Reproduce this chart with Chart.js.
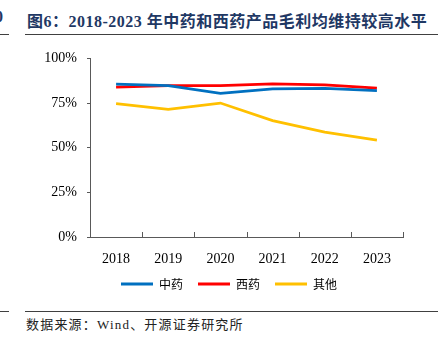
<!DOCTYPE html>
<html>
<head>
<meta charset="utf-8">
<script src="https://cdn.jsdelivr.net/npm/chart.js@4"></script>
<style>
  html, body { margin: 0; padding: 0; background: #fff; }
  body { width: 438px; height: 346px; position: relative; overflow: hidden; }
  .title { position: absolute; left: 27px; top: 8px; white-space: nowrap; font: bold 16px "Liberation Serif", "Noto Sans CJK SC", serif; color: #1f3864; letter-spacing: 0.5px; }
  .frag { position: absolute; left: -5px; top: 8px; font: bold 16px "Liberation Serif", serif; color: #1f3864; }
  .rule { position: absolute; height: 1px; background: #404040; }
  .source { position: absolute; left: 26px; top: 314px; white-space: nowrap; font: 13px "Liberation Serif", "Noto Sans CJK SC", serif; color: #222; letter-spacing: 1.2px; }
  .wrap { position: absolute; left: 20px; top: 40px; width: 418px; height: 260px; }
</style>
</head>
<body>
<div class="frag">0</div>
<div class="title">图6：2018-2023 年中药和西药产品毛利均维持较高水平</div>
<div class="rule" style="left:0;width:9px;top:34px"></div>
<div class="rule" style="left:25px;width:413px;top:34px"></div>
<div class="wrap"><canvas id="chart"></canvas></div>
<div class="rule" style="left:0;width:9px;top:311px"></div>
<div class="rule" style="left:25px;width:413px;top:311px"></div>
<div class="source">数据来源：Wind、开源证券研究所</div>
<script>
const years = ['2018', '2019', '2020', '2021', '2022', '2023'];
const tcm = [85.6, 84.7, 80.4, 83.0, 83.2, 81.9];      // 中药
const western = [83.9, 84.7, 84.7, 85.8, 85.2, 83.3];  // 西药
const other = [74.7, 71.5, 75.0, 65.2, 58.7, 54.3];    // 其他
const yTicks = [0, 25, 50, 75, 100];

const axisColor = '#595959';

// short upward ticks on the x axis at category boundaries
const xTickMarks = {
  id: 'xTickMarks',
  afterDraw(chart) {
    const x = chart.scales.x;
    const ctx = chart.ctx;
    const n = years.length;
    const step = (x.right - x.left) / n;
    ctx.save();
    ctx.strokeStyle = axisColor;
    ctx.lineWidth = 1;
    ctx.beginPath();
    for (let i = 0; i <= n; i++) {
      const px = Math.round(x.left + i * step) + 0.5;
      ctx.moveTo(px, x.top);
      ctx.lineTo(px, x.top - 5);
    }
    ctx.stroke();
    ctx.restore();
  }
};

const ds = (label, data, color) => ({
  label, data,
  borderColor: color, backgroundColor: color,
  borderWidth: 2.75, pointRadius: 0, tension: 0, fill: false
});

new Chart(document.getElementById('chart'), {
  type: 'line',
  data: {
    labels: years,
    datasets: [
      ds('中药', tcm, '#0070c0'),
      ds('西药', western, '#ff0000'),
      ds('其他', other, '#ffc000')
    ]
  },
  options: {
    responsive: true,
    maintainAspectRatio: false,
    animation: false,
    layout: { padding: { top: 10, right: 0, left: 0, bottom: 0 } },
    scales: {
      x: {
        offset: true,
        grid: { display: false },
        border: { display: true, color: axisColor, width: 1 },
        ticks: { color: '#000', font: { family: 'Liberation Serif', size: 14 }, padding: 6 },
        afterFit: s => { s.height = 26; }
      },
      y: {
        min: 0, max: 100,
        afterBuildTicks: s => { s.ticks = yTicks.map(v => ({ value: v })); },
        grid: { drawOnChartArea: false, tickLength: 3, color: axisColor },
        border: { display: true, color: axisColor, width: 1 },
        ticks: { color: '#000', font: { family: 'Liberation Serif', size: 14 }, padding: 10, callback: v => v + '%' },
        afterFit: s => { s.width = 70; }
      },
      // empty right-hand spacer so the plot stops short of the edge
      yRight: {
        position: 'right',
        grid: { display: false },
        border: { display: false },
        ticks: { display: false },
        afterFit: s => { s.width = 35; }
      }
    },
    plugins: {
      tooltip: { enabled: false },
      legend: {
        position: 'bottom',
        labels: {
          boxWidth: 32, boxHeight: 3, padding: 15,
          color: '#000',
          font: { family: 'Noto Sans CJK SC', size: 12 },
          generateLabels: chart => Chart.defaults.plugins.legend.labels.generateLabels(chart)
            .map(l => Object.assign(l, { lineWidth: 0, fillStyle: l.strokeStyle }))
        }
      }
    }
  },
  plugins: [xTickMarks]
});
</script>
</body>
</html>
